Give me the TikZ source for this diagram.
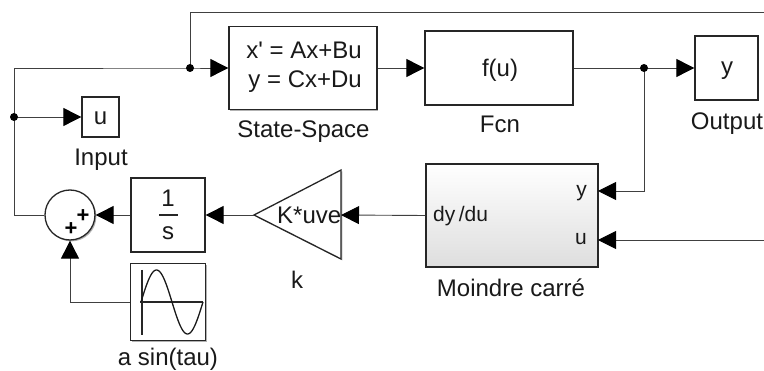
\documentclass[tikz,border=0pt]{standalone}
\usepackage{fontspec}
\setmainfont{Liberation Sans}
\usetikzlibrary{arrows.meta,shadows}
\begin{document}
\begin{tikzpicture}[x=1pt,y=-1pt,
  blk/.style={draw=black!85, line width=1.3pt, fill=white, inner sep=0pt,
    drop shadow={shadow xshift=1.4pt, shadow yshift=-1.4pt, fill=black!30, opacity=1}},
  wire/.style={draw=black!75, line width=0.9pt},
  arr/.style={wire, -{Triangle[length=18pt,width=18pt,color=black]}},
  txt/.style={font=\fontsize{24}{24}\selectfont, inner sep=0pt, anchor=base, text=black!90},
  ptxt/.style={font=\fontsize{21}{21}\selectfont, inner sep=0pt, text=black!90},
  dot/.style={fill=black}]
\useasboundingbox (0,0) rectangle (764,371);

% blocks
\node[blk, minimum width=148pt, minimum height=83pt] (ss) at (303,68) {};
\node[blk, minimum width=148pt, minimum height=74pt] (fcn) at (499,68) {};
\node[blk, minimum width=63pt, minimum height=64pt] (out) at (726.5,68) {};
\node[blk, minimum width=37pt, minimum height=40pt] (in) at (100.5,117) {};
\node[blk, top color=white, bottom color=black!13, minimum width=172pt, minimum height=103pt] (mc) at (512,215.5) {};
\node[blk, minimum width=74pt, minimum height=74pt] (integ) at (168,215) {};
\node[blk, minimum width=75pt, minimum height=77pt] (sine) at (168,302) {};
\node[blk, circle, minimum size=50pt] (sum) at (70,215) {};

% gain triangle
\coordinate (gtip) at (254,215);
\coordinate (gbase) at (341,215);
\draw[line width=1.3pt, draw=black!85, fill=white,
  drop shadow={shadow xshift=1.4pt, shadow yshift=-1.4pt, fill=black!30, opacity=1}]
  (gtip) -- (341,170) -- (341,259) -- cycle;

% block texts
\node[txt, anchor=base east] (ss1) at (362,59) {x\textquotesingle{} = Ax+Bu};
\node[txt, anchor=base east] (ss2) at (362,88) {y = Cx+Du};
\node[txt] (fu) at (500,77) {f(u)};
\node[txt] (outy) at (727,75) {y};
\node[txt] (inu) at (100.5,125) {u};
\node[txt] (one) at (168,207) {1};
\node[txt] (ess) at (168,240) {s};
\draw[line width=1.4pt, black!85] (159,215) -- (178,215);
\node[txt, anchor=base west] (kuve) at (277,224) {K*uve};
\node[ptxt, anchor=base east] (py) at (587,197) {y};
\node[ptxt, anchor=base east] (pu) at (587,245) {u};
\node[ptxt, anchor=base west] (pdy) at (433,222) {dy\,/du};
\node[font=\fontsize{22}{22}\selectfont\bfseries, inner sep=0pt] (p1) at (83,216) {+};
\node[font=\fontsize{22}{22}\selectfont\bfseries, inner sep=0pt] (p2) at (71,229) {+};

% sine icon
\draw[line width=1.1pt, black!85] (142,270) -- (142,335);
\draw[line width=1.1pt, black!85] (140,302) -- (203,302);
\draw[line width=1.3pt, black!90] plot[domain=0:360, samples=72, smooth] ({141+\x/360*62},{302-32*sin(\x)});

% labels
\node[txt] (lss) at (303.5,138) {State-Space};
\node[txt] (lin) at (101,166) {Input};
\node[txt] (lfcn) at (500,133) {Fcn};
\node[txt] (lout) at (727,130) {Output};
\node[txt] (lk) at (297,289) {k};
\node[txt] (lmc) at (511,297) {Moindre carré};
\node[txt] (lsin) at (168,366) {a sin(tau)};

% coordinates
\coordinate (cL) at (14,215);
\coordinate (j0) at (14,117);
\coordinate (j1) at (190,68);
\coordinate (j2) at (644,68);
\coordinate (eT) at (764,12);
\coordinate (eU) at (764,240);
\coordinate (portY) at (598,191);
\coordinate (portU) at (598,240);
\coordinate (sinc) at (70,302);

% connectors
\draw[arr] (sum.west) -- (cL) |- (j1) -- (ss.west);
\draw[wire] (j1) |- (eT);
\draw[arr] (j0) -- (in.west);
\draw[arr] (ss.east) -- (fcn.west);
\draw[arr] (fcn.east) -- (out.west);
\draw[arr] (j2) |- (portY);
\draw[arr] (eU) -- (portU);
\draw[arr] (mc.west) -- (gbase);
\draw[arr] (gtip) -- (integ.east);
\draw[arr] (integ.west) -- (sum.east);
\draw[arr] (sine.west) -- (sinc) -- (sum.south);

\fill[dot] (j0) circle (4pt);
\fill[dot] (j1) circle (4pt);
\fill[dot] (j2) circle (4pt);
\end{tikzpicture}
\end{document}
